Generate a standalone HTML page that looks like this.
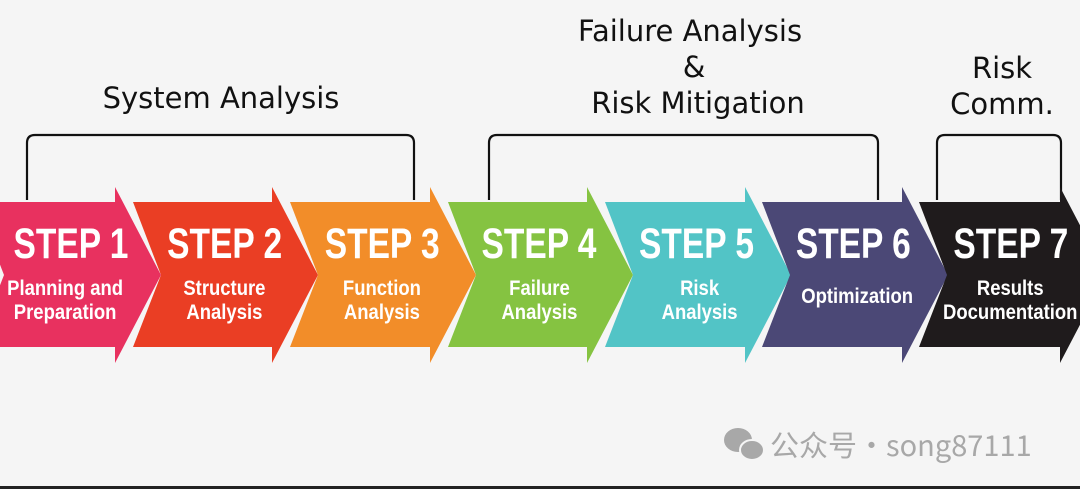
<!DOCTYPE html>
<html><head><meta charset="utf-8"><style>
html,body{margin:0;padding:0}
body{width:1080px;height:489px;background:#f5f5f5;overflow:hidden;position:relative;font-family:"Liberation Sans",sans-serif}
svg{position:absolute;left:0;top:0}
</style></head><body>
<svg width="1080" height="489" viewBox="0 0 1080 489">
<rect x="0" y="0" width="1080" height="489" fill="#f5f5f5"/>
<g fill="none" stroke="#111" stroke-width="2.2">
<path d="M27 200 V143 Q27 135 35 135 H406 Q414 135 414 143 V200"/>
<path d="M489 200 V143 Q489 135 497 135 H870 Q878 135 878 143 V200"/>
<path d="M937 200 V143 Q937 135 945 135 H1053 Q1061 135 1061 143 V200"/>
</g>
<g font-family="'DejaVu Sans',sans-serif" font-size="29" fill="#111" text-anchor="middle">
<text x="221" y="108">System Analysis</text>
<text x="690" y="41">Failure Analysis</text>
<text x="694" y="77">&amp;</text>
<text x="698" y="113">Risk Mitigation</text>
<text x="1002" y="78">Risk</text>
<text x="1002" y="114">Comm.</text>
</g>
<g font-family="'Liberation Sans Narrow','Liberation Sans',sans-serif" font-weight="bold" fill="#fff" text-anchor="middle">
<path d="M-24 202 H115 V187 L161 275 L115 363 V347 H-24 L4 275 Z" fill="#e8315f"/>
<path d="M133 202 H272 V187 L318 275 L272 363 V347 H133 L161 275 Z" fill="#ea3e24"/>
<path d="M290 202 H430 V187 L476 275 L430 363 V347 H290 L318 275 Z" fill="#f28d29"/>
<path d="M448 202 H587 V187 L633 275 L587 363 V347 H448 L476 275 Z" fill="#85c341"/>
<path d="M605 202 H745 V187 L791 275 L745 363 V347 H605 L633 275 Z" fill="#52c4c6"/>
<path d="M762 202 H902 V187 L948 275 L902 363 V347 H762 L790 275 Z" fill="#4b4876"/>
<path d="M919 202 H1060 V187 L1106 275 L1060 363 V347 H919 L947 275 Z" fill="#1f1b1c"/>
<g font-size="43" transform="scale(0.78,1)">
<text x="91" y="258">STEP 1</text>
<text x="288" y="258">STEP 2</text>
<text x="490" y="258">STEP 3</text>
<text x="691" y="258">STEP 4</text>
<text x="893" y="258">STEP 5</text>
<text x="1094" y="258">STEP 6</text>
<text x="1296" y="258">STEP 7</text>
</g>
<g font-size="21" transform="scale(0.88,1)">
<text x="74" y="295">Planning and</text>
<text x="74" y="319">Preparation</text>
<text x="255" y="295">Structure</text>
<text x="255" y="319">Analysis</text>
<text x="434" y="295">Function</text>
<text x="434" y="319">Analysis</text>
<text x="613" y="295">Failure</text>
<text x="613" y="319">Analysis</text>
<text x="795" y="295">Risk</text>
<text x="795" y="319">Analysis</text>
<text x="974" y="303">Optimization</text>
<text x="1148" y="295">Results</text>
<text x="1148" y="319">Documentation</text>
</g>
</g>
<g fill="#a8a8a8">
<ellipse cx="738" cy="440" rx="14" ry="12"/>
<ellipse cx="752" cy="450" rx="12" ry="10" stroke="#f5f5f5" stroke-width="2"/>
</g>
<text x="770" y="456" font-family="'Noto Sans CJK SC',sans-serif" font-size="29" fill="#a8a8a8">公众号·song87111</text>
<rect x="0" y="486" width="1080" height="3" fill="#222"/>
</svg>
</body></html>
